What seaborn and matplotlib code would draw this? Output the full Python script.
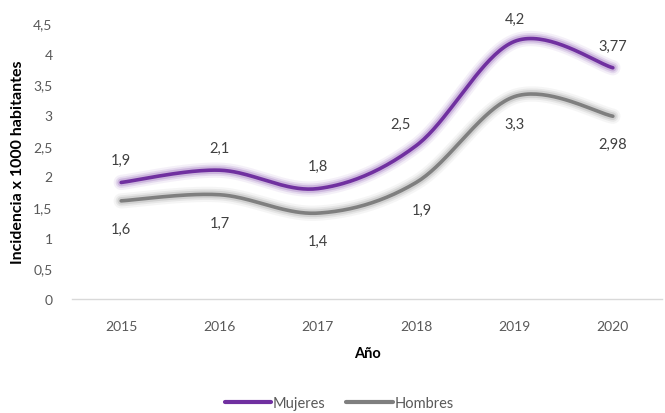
import numpy as np
import pandas as pd
import matplotlib
matplotlib.use("Agg")
import matplotlib.pyplot as plt
import seaborn as sns

years = [2015, 2016, 2017, 2018, 2019, 2020]
mujeres = [1.9, 2.1, 1.8, 2.5, 4.2, 3.77]
hombres = [1.6, 1.7, 1.4, 1.9, 3.3, 2.98]
mujeres_labels = ["1,9", "2,1", "1,8", "2,5", "4,2", "3,77"]
hombres_labels = ["1,6", "1,7", "1,4", "1,9", "3,3", "2,98"]
yticks = [0, 0.5, 1, 1.5, 2, 2.5, 3, 3.5, 4, 4.5]
ytick_labels = ["0", "0,5", "1", "1,5", "2", "2,5", "3", "3,5", "4", "4,5"]

PURPLE = "#7030A0"
GRAY = "#7F7F7F"
TXT = "#595959"


def smooth(xs, ys, n=40):
    """Cubic Bezier smoothing through every point (Catmull-Rom tangents)."""
    xs = np.asarray(xs, float)
    ys = np.asarray(ys, float)
    px, py = [], []
    m = len(xs)
    for i in range(m - 1):
        x0, y0 = xs[max(i - 1, 0)], ys[max(i - 1, 0)]
        x1, y1 = xs[i], ys[i]
        x2, y2 = xs[i + 1], ys[i + 1]
        x3, y3 = xs[min(i + 2, m - 1)], ys[min(i + 2, m - 1)]
        c1x, c1y = x1 + (x2 - x0) / 6, y1 + (y2 - y0) / 6
        c2x, c2y = x2 - (x3 - x1) / 6, y2 - (y3 - y1) / 6
        t = np.linspace(0, 1, n, endpoint=(i == m - 2))
        a, b, c, d = (1 - t) ** 3, 3 * (1 - t) ** 2 * t, 3 * (1 - t) * t ** 2, t ** 3
        px.extend(a * x1 + b * c1x + c * c2x + d * x2)
        py.extend(a * y1 + b * c1y + c * c2y + d * y2)
    return np.array(px), np.array(py)


pos = np.arange(len(years))
frames = []
for name, vals in [("Mujeres", mujeres), ("Hombres", hombres)]:
    sx, sy = smooth(pos, vals)
    frames.append(pd.DataFrame({"x": sx, "y": sy, "serie": name}))
curves = pd.concat(frames, ignore_index=True)

sns.set_theme(style="white")
plt.rcParams["font.family"] = ["Lato", "DejaVu Sans"]

fig = plt.figure(figsize=(6.65, 4.14), dpi=100)
ax = fig.add_axes([0.1083, 0.2754, 0.8872, 0.6666])

palette = {"Mujeres": PURPLE, "Hombres": GRAY}

# soft glow behind each line
for lw, alpha in [(11, 0.07), (8, 0.12), (5.5, 0.2)]:
    sns.lineplot(data=curves, x="x", y="y", hue="serie", palette=palette,
                 linewidth=lw, alpha=alpha, sort=False, estimator=None,
                 legend=False, ax=ax)
sns.lineplot(data=curves, x="x", y="y", hue="serie", palette=palette,
             linewidth=2.6, sort=False, estimator=None, legend=False, ax=ax)

for i, (v, lab) in enumerate(zip(mujeres, mujeres_labels)):
    dx = -11 if i == 3 else 0
    ax.annotate(lab, (pos[i], v), xytext=(dx, 16), textcoords="offset points",
                ha="center", va="center", fontsize=10.5, color="#404040")
for i, (v, lab) in enumerate(zip(hombres, hombres_labels)):
    dx = 4 if i == 3 else 0
    ax.annotate(lab, (pos[i], v), xytext=(dx, -20), textcoords="offset points",
                ha="center", va="center", fontsize=10.5, color="#404040")

ax.set_xlim(-0.5, len(years) - 0.5)
ax.set_ylim(0, 4.5)
ax.set_xticks(pos)
ax.set_xticklabels([str(y) for y in years])
ax.set_yticks(yticks)
ax.set_yticklabels(ytick_labels)
ax.tick_params(axis="both", length=0, labelsize=10, labelcolor=TXT)
ax.tick_params(axis="x", pad=15)
ax.tick_params(axis="y", pad=14)

for s in ["top", "right", "left"]:
    ax.spines[s].set_visible(False)
ax.spines["bottom"].set_color("#D9D9D9")
ax.spines["bottom"].set_linewidth(1)

ax.set_xlabel("Año", fontsize=10.5, fontweight="bold", color="black", labelpad=10)
ax.set_ylabel("Incidencia x 1000 habitantes", fontsize=11.5, fontweight="bold",
              color="black", labelpad=6)

handles = [plt.Line2D([], [], color=PURPLE, linewidth=3),
           plt.Line2D([], [], color=GRAY, linewidth=3)]
leg = fig.legend(handles, ["Mujeres", "Hombres"], loc="center",
                 bbox_to_anchor=(0.51, 0.024), ncol=2, frameon=False,
                 fontsize=10.5, handlelength=3.2, handletextpad=0.1,
                 columnspacing=1.4)
for t in leg.get_texts():
    t.set_color(TXT)

fig.savefig("out.png", dpi=100)
